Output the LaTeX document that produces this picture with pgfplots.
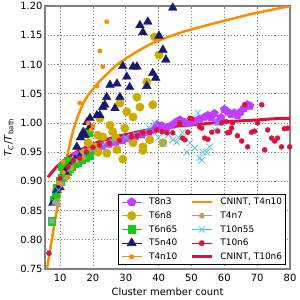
\documentclass[border=0pt]{standalone}
\usepackage{fontspec}
\setmainfont{DejaVu Sans}
\usepackage{pgfplots}
\pgfplotsset{compat=1.18}
\definecolor{cpurple}{RGB}{191,62,255}
\definecolor{cgold}{RGB}{204,172,0}
\definecolor{cgreen}{RGB}{20,205,20}
\definecolor{cnavy}{RGB}{25,25,112}
\definecolor{corange}{RGB}{255,140,0}
\definecolor{ctan}{RGB}{190,155,110}
\definecolor{ccyan}{RGB}{80,190,240}
\definecolor{ccrim}{RGB}{220,20,60}
\definecolor{cspine}{RGB}{128,128,128}
\pgfplotsset{
  mleg/.style={legend image code/.code={\path (0bp,0bp) -- (20bp,0bp); \draw[##1] plot coordinates {(10bp,0bp)};}},
  lleg/.style={legend image code/.code={\draw[##1] (0bp,0bp) -- (20bp,0bp);}}
}
\begin{document}
\begin{tikzpicture}
\begin{axis}[
  scale only axis, width=245bp, height=263bp,
  xmin=5.4, xmax=80, ymin=0.75, ymax=1.20,
  xtick={10,20,30,40,50,60,70,80},
  ytick={0.75,0.80,0.85,0.90,0.95,1.00,1.05,1.10,1.15,1.20},
  yticklabels={0.75,0.80,0.85,0.90,0.95,1.00,1.05,1.10,1.15,1.20},
  /pgf/number format/assume math mode=true,
  font=\fontsize{10}{12}\selectfont,
  major tick length=0pt,
  grid=major,
  major grid style={gray, line width=0.6bp, dash pattern=on 1.1bp off 2bp},
  axis line style={cspine, line width=1.6bp},
  xticklabel style={yshift=-2bp},
  yticklabel style={xshift=1bp},
  xlabel={Cluster member count},
  ylabel={\textit{T}\textsubscript{\textit{C}}/\textit{T}\textsubscript{bath}},
  xlabel style={at={(axis description cs:0.5,0)}, anchor=center, yshift=-23bp},
  ylabel style={at={(axis description cs:-0.147,0.5)}, anchor=center},
  clip=true,
  legend columns=2,
  legend cell align=left,
  legend style={at={(1,0)}, anchor=south east, xshift=-4bp, yshift=4bp,
    draw=black, line width=0.8bp, fill=white,
    font=\fontsize{9}{10}\selectfont,
    inner xsep=2.5bp, inner ysep=2.5bp,
    nodes={inner sep=1bp, text height=7bp, text depth=1.5bp},
    row sep=3.2bp,
    /tikz/every odd column/.append style={column sep=6bp},
    /tikz/every even column/.append style={column sep=12bp}},
]
% T8n3
\addplot[forget plot, only marks, mark=pentagon*, mark size=4.3bp, color=cpurple] coordinates {
(15,0.945)(17,0.950)(19,0.953)(21,0.957)(23,0.960)(25,0.964)(27,0.967)(29,0.970)(31,0.974)(33,0.977)(35,0.980)(37,0.984)(38.5,0.988)(39.5,0.997)(41,0.995)(42.5,0.992)(44,0.996)(45.5,1.002)(46.5,1.005)(48,1.001)(49.5,1.000)(51,1.003)(52.5,1.007)(54,1.010)(55,1.013)(56,1.009)(57,1.016)(58,1.002)(59,1.009)(60,1.023)(61,1.019)(62,1.015)(63,1.017)(64,1.013)(65,1.019)(66,1.025)(67,1.031)(67.8,1.029)
};
% T6n8
\addplot[forget plot, only marks, mark=*, mark size=4.2bp, color=cgold] coordinates {
(17,0.948)(19.1,0.950)(20.6,0.959)(21.5,0.950)(22.1,1.008)(23.0,0.976)(24.2,0.948)(25.2,0.996)(27.3,0.954)(28.2,1.034)(29.1,0.938)(29.7,0.991)(30.3,1.019)(32.2,1.010)(32.2,0.966)(33.4,1.044)(34.3,1.027)(35.2,0.959)(36.4,1.070)(37.3,0.971)(38.2,1.031)(38.8,1.147)(40.1,1.116)(41.3,0.966)(27.0,0.975)(26,0.985)(18.5,0.966)(21.5,0.979)(35.2,0.953)
};
% T6n65
\addplot[forget plot, only marks, mark=square*, mark size=3.7bp, color=cgreen] coordinates {
(7.5,0.832)(8.1,0.868)(8.6,0.878)(9.0,0.889)(10.0,0.900)(10.6,0.906)(11.3,0.912)(12.1,0.916)(13.0,0.922)(13.6,0.925)(14.5,0.930)(15.4,0.933)(16.5,0.937)(17.6,0.940)(18.5,0.984)(19,0.945)(12.5,0.935)(10.6,0.925)
};
% T5n40
\addplot[forget plot, only marks, mark=triangle*, mark size=5bp, color=cnavy] coordinates {
(7.8,0.863)(9.05,0.885)(9.96,0.890)(11.5,0.916)(13,0.925)(14.5,0.937)(16,0.942)(15.1,0.959)(17.6,0.979)(19.1,0.993)(18.2,1.001)(19.1,1.008)(22.1,1.013)(21.2,1.013)(23.6,1.031)(23.0,1.027)(26.7,1.025)(24.2,1.044)(28.2,1.044)(25.2,1.065)(27.3,1.067)(31.2,1.061)(36.4,1.063)(38.2,1.085)(30.3,1.079)(32.2,1.096)(33.4,1.096)(29.1,1.097)(39.1,1.077)(42.2,1.108)(41.3,1.125)(40.1,1.149)(34.3,1.167)(35.2,1.155)(36.7,1.173)(44.3,1.197)(17,0.984)(16.2,0.975)
};
% T4n10
\addplot[forget plot, only marks, mark=*, mark size=2.2bp, color=corange] coordinates {
(24.2,1.173)(22.1,1.123)(23.0,1.096)(21.2,1.063)(16.0,1.034)(18.5,1.000)(20.0,0.995)(19.4,0.988)(10.9,0.933)(13,0.925)(13.6,0.922)(17,0.940)(12.1,0.906)(9.4,0.897)(12.4,0.907)(7.5,0.832)(8.4,0.863)(15,0.935)(11,0.915)
};
% CNINT T4n10
\addplot[forget plot, no markers, line width=2.5bp, color=corange, smooth] coordinates {
(6.0,0.75)(7,0.785)(8,0.818)(9,0.85)(10,0.88)(11,0.912)(12,0.94)(13,0.965)(14,0.987)(15,1.005)(16,1.02)(17,1.033)(18.5,1.047)(20,1.058)(22,1.071)(24,1.082)(27,1.098)(30,1.110)(34,1.124)(38,1.136)(42,1.145)(47,1.155)(52,1.163)(58,1.172)(63,1.179)(68,1.186)(74,1.193)(80,1.200)
};
% T4n7
\addplot[forget plot, only marks, mark=*, mark size=2.4bp, color=ctan] coordinates {
(8.4,0.865)(9.4,0.860)(7.5,0.832)(10.5,0.895)
};
% T10n55
\addplot[forget plot, only marks, mark=x, mark size=4.5bp, line width=0.7bp, color=ccyan] coordinates {
(6.5,0.780)(7.5,0.832)(8.4,0.865)(9.5,0.885)(11,0.905)(13,0.922)(15,0.935)(17,0.945)(20,0.955)(23,0.962)(26,0.968)(30,0.975)(33,0.980)(35.5,0.985)(37,0.992)(38.8,1.000)(40,0.975)(41.5,0.965)(43,0.980)(44.3,0.971)(45.5,0.967)(47.3,0.984)(48.6,0.950)(49.5,0.966)(51,0.957)(51.9,1.017)(52.5,0.940)(53.4,0.950)(54.6,0.950)(55.5,0.959)(57.1,0.988)(58,1.000)(46,0.975)(53.1,0.936)
};
% T10n6
\addplot[forget plot, only marks, mark=*, mark size=2.5bp, color=ccrim] coordinates {
(6.6,0.777)(10,0.905)(12.4,0.925)(14,0.935)(16,0.940)(18,0.950)(20,0.958)(22,0.962)(25,0.965)(28,0.970)(31.8,0.976)(33.5,0.978)(35.2,0.983)(37.3,0.984)(39.4,0.988)(41,0.985)(42.5,0.983)(44.3,0.983)(46.4,1.000)(47.3,0.974)(48,0.971)(48.9,0.984)(49.5,1.008)(50.1,1.007)(52.5,0.993)(53.1,0.991)(54,0.974)(55,0.972)(56.2,0.984)(58,0.986)(59.2,1.000)(60.6,1.002)(61,0.983)(61.6,0.984)(62.2,0.991)(62.5,1.000)(64,0.978)(65.3,0.969)(66.2,1.031)(67.1,0.959)(68.3,0.984)(69.2,0.986)(70.1,1.000)(71.4,1.031)(72.3,0.954)(73.2,0.988)(74.4,0.974)(75.3,0.969)(76.2,0.974)(77.4,0.959)(78.3,0.990)(79.3,0.991)(79.9,0.959)
};
% CNINT T10n6
\addplot[forget plot, no markers, line width=3bp, color=ccrim, smooth] coordinates {
(6.3,0.907)(7,0.912)(8,0.919)(9,0.925)(10,0.930)(11,0.935)(12,0.939)(13,0.943)(14,0.947)(15,0.950)(17,0.956)(19,0.961)(21,0.966)(23,0.970)(25,0.973)(28,0.978)(31,0.981)(34,0.985)(37,0.988)(40,0.990)(45,0.994)(50,0.997)(55,0.999)(60,1.002)(65,1.0035)(70,1.005)(75,1.007)(80,1.008)
};
% legend (row-wise fill reproducing column-wise order)
\addlegendimage{mleg, only marks, mark=pentagon*, mark size=4.3bp, color=cpurple}
\addlegendentry{T8n3}
\addlegendimage{lleg, line width=2.5bp, color=corange}
\addlegendentry{CNINT, T4n10}
\addlegendimage{mleg, only marks, mark=*, mark size=4.2bp, color=cgold}
\addlegendentry{T6n8}
\addlegendimage{mleg, only marks, mark=*, mark size=2.4bp, color=ctan}
\addlegendentry{T4n7}
\addlegendimage{mleg, only marks, mark=square*, mark size=3.7bp, color=cgreen}
\addlegendentry{T6n65}
\addlegendimage{mleg, only marks, mark=x, mark size=4.5bp, line width=0.7bp, color=ccyan}
\addlegendentry{T10n55}
\addlegendimage{mleg, only marks, mark=triangle*, mark size=5bp, color=cnavy}
\addlegendentry{T5n40}
\addlegendimage{mleg, only marks, mark=*, mark size=2.5bp, color=ccrim}
\addlegendentry{T10n6}
\addlegendimage{mleg, only marks, mark=*, mark size=2.2bp, color=corange}
\addlegendentry{T4n10}
\addlegendimage{lleg, line width=3bp, color=ccrim}
\addlegendentry{CNINT, T10n6}
\end{axis}
\pgfresetboundingbox
\path[use as bounding box] (-45bp,-31bp) rectangle (255bp,269bp);
\end{tikzpicture}
\end{document}
